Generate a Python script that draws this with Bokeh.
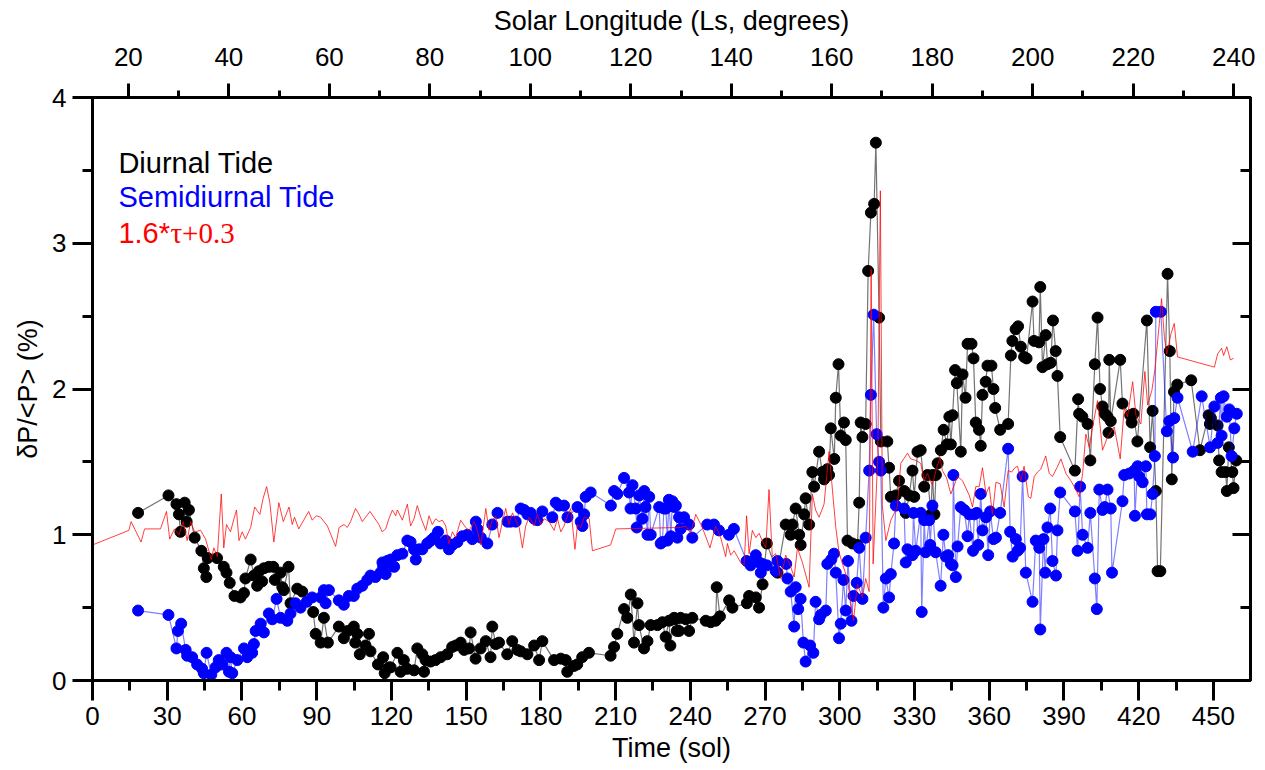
from bokeh.plotting import figure
from bokeh.models import Range1d, LinearAxis, FixedTicker
from bokeh.embed import file_html
from bokeh.resources import INLINE
from bokeh.core.properties import value

FONT = "Liberation Sans"

# ---------------- data ----------------
diurnal_sol = [18.3, 30.5, 33.7, 34.7, 35.3, 37.0, 37.8, 38.7, 41.0, 43.7, 44.7, 45.7, 46.3, 50.0, 52.7, 53.8,
               55.1, 57.0, 59.4, 60.8, 61.4, 63.5, 64.8, 66.1, 66.8, 68.1, 68.8, 70.8, 72.6, 73.2, 75.5, 76.2,
               76.8, 78.7, 79.5, 82.2, 84.2, 88.6, 89.6, 91.6, 92.9, 94.5, 98.9, 100.9, 102.5, 104.9, 105.5,
               106.3, 107.3, 109.6, 111.0, 111.6, 114.6, 116.7, 117.3, 119.0, 119.7, 122.4, 123.7, 125.0,
               126.4, 129.1, 130.4, 132.4, 133.1, 133.7, 135.7, 137.7, 139.8, 142.4, 144.4, 145.8, 147.8,
               149.2, 151.2, 151.8, 153.8, 155.8, 157.9, 159.8, 160.5, 161.9, 163.2, 166.5, 168.5, 170.6,
               171.9, 174.6, 177.3, 179.3, 180.6, 185.3, 188.0, 190.0, 190.6, 193.3, 194.6, 196.6, 199.3,
               208.0, 209.4, 210.7, 213.4, 214.7, 216.1, 217.4, 218.8, 219.4, 221.4, 222.8, 224.1, 226.8,
               228.8, 230.1, 231.5, 232.0, 233.5, 234.1, 234.6, 235.5, 236.1, 238.2, 239.5, 240.8, 246.2,
               248.2, 250.2, 250.6, 251.9, 255.6, 256.9, 262.7, 263.6, 266.3, 267.6, 269.0, 270.7, 275.0,
               278.3, 280.3, 281.0, 282.3, 283.7, 284.3, 285.7, 286.3, 287.7, 289.0, 289.7, 291.7, 293.0,
               293.7, 295.0, 295.7, 296.4, 297.8, 298.4, 299.5, 300.4, 301.7, 302.4, 303.1, 305.1, 307.1,
               307.8, 308.4, 309.1, 310.4, 311.4, 312.5, 313.8, 314.5, 315.8, 316.5, 319.1, 319.8, 320.5,
               322.5, 323.8, 325.9, 326.5, 327.9, 329.2, 329.9, 331.2, 332.5, 333.9, 335.2, 336.6, 337.2,
               338.0, 338.6, 339.3, 340.6, 341.7, 343.0, 344.0, 344.6, 345.3, 346.3, 347.0, 348.6, 349.3,
               350.5, 351.3, 352.9, 353.7, 354.6, 355.9, 356.6, 357.3, 358.6, 359.3, 360.9, 361.7, 362.4,
               364.4, 367.6, 368.7, 369.3, 370.6, 371.6, 372.7, 374.0, 375.0, 377.4, 378.0, 380.0, 380.5,
               381.4, 382.7, 383.4, 384.7, 385.6, 386.7, 387.4, 388.5, 394.4, 395.7, 396.1, 397.4, 399.5,
               400.6, 402.4, 403.5, 404.5, 405.5, 406.4, 407.5, 407.9, 408.2, 408.8, 412.6, 413.5, 416.6,
               417.2, 417.9, 419.5, 423.3, 424.6, 425.6, 426.9, 427.6, 428.7, 431.6, 432.5, 433.3, 434.2,
               435.5, 441.1, 444.6, 448.1, 448.6, 449.0, 451.7, 452.3, 453.3, 454.9, 455.4, 456.2, 457.6,
               458.1, 459.2]
diurnal_val = [1.15, 1.27, 1.21, 1.14, 1.02, 1.22, 1.09, 1.17, 0.98, 0.89, 0.77, 0.71, 0.84, 0.84, 0.78, 0.74,
               0.67, 0.58, 0.57, 0.60, 0.70, 0.83, 0.72, 0.65, 0.75, 0.68, 0.77, 0.78, 0.78, 0.69, 0.74, 0.64,
               0.62, 0.78, 0.53, 0.63, 0.61, 0.47, 0.32, 0.26, 0.43, 0.26, 0.37, 0.29, 0.34, 0.37, 0.26,
               0.32, 0.18, 0.24, 0.32, 0.20, 0.11, 0.16, 0.05, 0.09, 0.09, 0.19, 0.06, 0.14,
               0.08, 0.07, 0.22, 0.18, 0.06, 0.14, 0.13, 0.14, 0.16, 0.18, 0.23, 0.24, 0.26,
               0.21, 0.22, 0.33, 0.15, 0.22, 0.27, 0.16, 0.37, 0.25, 0.26, 0.18, 0.27, 0.21,
               0.20, 0.18, 0.24, 0.14, 0.27, 0.14, 0.15, 0.14, 0.06, 0.10, 0.11, 0.16, 0.19,
               0.17, 0.23, 0.32, 0.49, 0.43, 0.59, 0.26, 0.53, 0.38, 0.22, 0.27, 0.38, 0.38,
               0.40, 0.30, 0.41, 0.24, 0.43, 0.42, 0.34, 0.34, 0.43, 0.42, 0.34, 0.43, 0.41,
               0.40, 0.41, 0.64, 0.44, 0.55, 0.50, 0.53, 0.58, 0.57, 0.50, 0.66, 0.94, 0.74,
               1.07, 1.00, 1.07, 1.18, 1.00, 0.93, 1.14, 1.25, 1.07, 1.43, 1.33, 1.57, 1.43,
               1.38, 1.45, 1.41, 1.73, 1.52, 1.94, 2.17, 1.68, 1.77, 1.65, 0.96, 0.94, 0.93,
               1.22, 1.77, 1.67, 1.76, 2.81, 3.21, 3.27, 3.69, 2.49, 1.64, 1.64, 1.46, 1.26,
               1.27, 1.37, 1.30, 1.15, 1.27, 1.44, 1.26, 1.57, 1.58, 1.33, 1.41, 1.14, 1.41,
               1.14, 1.41, 1.49, 1.58, 1.72, 1.62, 1.81, 1.62, 1.82, 2.13, 2.04, 1.57, 2.10,
               1.94, 2.31, 2.31, 2.21, 1.77, 1.72, 1.61, 1.96, 2.05, 2.16, 2.16, 2.00, 1.87,
               1.72, 1.76, 2.23, 2.33, 2.41, 2.43, 2.29, 2.22, 2.21, 2.60, 2.33, 2.32, 2.70,
               2.15, 2.37, 2.17, 2.18, 2.47, 2.26, 2.09, 1.67, 1.44, 1.93, 1.83, 1.81, 1.76,
               1.51, 2.17, 2.49, 2.00, 1.88, 1.83, 1.81, 1.70, 2.20, 1.78, 2.20, 1.90, 1.82,
               1.77, 1.83, 1.64, 2.47, 1.60, 1.85, 1.30, 0.75, 0.75, 2.79, 2.26, 1.38, 1.98,
               2.03, 2.06, 1.58, 1.82, 1.76, 1.80, 1.75, 1.51, 1.43, 1.43, 1.30, 1.60, 1.43,
               1.32, 1.51]

semi_sol = [18.3, 30.5, 33.7, 34.3, 35.6, 37.4, 38.0, 40.0, 42.0, 44.0, 44.7, 45.8, 47.7, 49.4, 50.7, 52.1,
            53.8, 54.8, 55.4, 56.1, 58.1, 60.8, 62.1, 64.1, 64.8, 65.5, 67.5, 68.8, 70.8, 72.2, 73.9, 75.5,
            78.2, 79.5, 81.5, 83.5, 86.0, 88.2, 91.6, 92.9, 93.6, 94.9, 98.9, 100.9, 102.9, 104.9, 106.3,
            108.3, 110.3, 111.6, 113.6, 115.6, 116.4, 116.7, 117.7, 118.3, 119.7, 121.1, 122.4, 124.4,
            126.4, 127.7, 129.1, 129.8, 131.1, 132.4, 134.4, 135.8, 137.1, 138.7, 139.8, 141.8, 143.1,
            144.5, 146.5, 148.5, 150.5, 152.5, 153.9, 154.5, 155.9, 158.5, 160.5, 162.6, 166.6, 167.9,
            169.9, 171.9, 173.3, 174.6, 175.9, 177.3, 178.6, 180.6, 184.6, 186.0, 187.3, 189.3, 190.7,
            194.7, 196.0, 196.7, 197.4, 198.0, 200.0, 208.1, 209.4, 210.7, 213.4, 215.4, 216.0, 216.8,
            218.1, 218.5, 219.5, 220.8, 221.5, 222.0, 222.8, 223.5, 224.1, 227.5, 228.1, 228.8, 229.4,
            230.2, 230.8, 231.4, 232.2, 232.8, 233.7, 234.2, 234.8, 235.5, 236.1, 237.5, 239.5, 240.8,
            246.8, 249.5, 251.5, 255.5, 257.5, 262.6, 264.2, 266.3, 267.6, 268.3, 268.9, 270.7, 274.3,
            275.0, 278.5, 279.0, 280.3, 281.7, 282.3, 283.3, 284.3, 285.4, 286.3, 288.1, 289.4, 290.3,
            291.7, 292.4, 294.4, 295.0, 296.6, 297.7, 298.4, 299.7, 300.4, 301.5, 302.4, 303.3, 304.7,
            305.5, 306.8, 307.8, 309.1, 310.4, 311.8, 312.5, 313.6, 314.8, 315.8, 316.5, 317.5, 318.5,
            319.8, 320.5, 321.8, 322.5, 325.8, 326.5, 327.2, 329.2, 329.6, 330.5, 332.5, 332.9, 333.9,
            334.5, 335.9, 336.3, 337.2, 338.5, 340.5, 341.6, 342.6, 343.5, 344.6, 345.3, 345.6, 346.6,
            347.3, 348.6, 350.0, 351.3, 352.0, 353.5, 354.0, 355.0, 355.6, 356.6, 357.3, 358.7, 359.6,
            360.4, 361.7, 362.7, 364.4, 367.6, 368.4, 369.4, 370.7, 371.4, 372.4, 373.4, 374.7, 377.4,
            378.7, 380.1, 380.5, 381.8, 382.5, 383.4, 384.5, 385.4, 386.8, 387.4, 388.5, 394.4, 395.5,
            396.5, 397.5, 399.5, 400.6, 402.4, 403.2, 404.2, 405.5, 406.4, 407.5, 408.8, 409.3, 413.5,
            414.2, 416.2, 418.2, 418.5, 419.6, 420.2, 421.6, 422.9, 423.3, 424.7, 425.6, 426.5, 426.9,
            428.9, 431.3, 432.3, 433.8, 434.3, 435.6, 441.7, 445.3, 448.7, 450.4, 451.7, 453.0, 453.3,
            454.1, 455.4, 456.4, 457.3, 458.4, 459.4]
semi_val = [0.48, 0.45, 0.22, 0.34, 0.39, 0.21, 0.17, 0.16, 0.11, 0.08, 0.05, 0.19, 0.04, 0.09, 0.14, 0.11,
            0.19, 0.06, 0.16, 0.05, 0.14, 0.22, 0.16, 0.19, 0.25, 0.34, 0.39, 0.33, 0.46, 0.42, 0.56, 0.43,
            0.41, 0.46, 0.53, 0.50, 0.54, 0.57, 0.57, 0.62, 0.53, 0.62, 0.55, 0.52, 0.58, 0.58, 0.63,
            0.65, 0.69, 0.72, 0.71, 0.74, 0.81, 0.78, 0.73, 0.82, 0.83, 0.78, 0.86, 0.87,
            0.96, 0.95, 0.90, 0.83, 0.90, 0.90, 0.94, 0.96, 0.98, 1.02, 0.94, 0.96, 0.90,
            0.93, 0.95, 0.99, 1.00, 0.97, 1.09, 1.04, 0.98, 0.94, 1.07, 1.15, 1.09, 1.09,
            1.09, 1.18, 1.17, 1.14, 1.15, 1.11, 1.10, 1.16, 1.12, 1.22, 1.20, 1.20, 1.12,
            1.19, 1.09, 1.06, 1.14, 1.26, 1.29, 1.20, 1.30, 1.28, 1.39, 1.29, 1.18, 1.34,
            1.18, 1.05, 1.27, 1.11, 1.30, 1.19, 1.00, 1.26, 1.00, 1.19, 0.94, 0.95, 1.18,
            1.18, 0.96, 1.24, 0.99, 1.23, 1.19, 1.20, 0.98, 1.12, 1.04, 1.12, 1.07, 0.98,
            1.07, 1.07, 1.03, 1.00, 1.04, 0.82, 0.79, 0.86, 0.81, 0.74, 0.80, 0.79, 0.75,
            0.82, 0.80, 0.70, 0.61, 0.37, 0.64, 0.49, 0.56, 0.26, 0.13, 0.24, 0.19, 0.54,
            0.42, 0.45, 0.48, 0.80, 0.83, 0.87, 0.74, 0.29, 0.39, 0.69, 0.48, 0.82, 0.41,
            0.58, 0.67, 0.91, 0.56, 0.98, 1.44, 1.96, 2.51, 1.69, 1.50, 1.44, 0.50, 0.70,
            0.57, 0.73, 0.94, 1.20, 1.18, 0.81, 0.90, 0.86, 1.15, 0.89, 1.15, 0.47, 1.10,
            0.88, 1.10, 0.93, 1.20, 0.88, 0.65, 1.00, 0.85, 0.86, 0.80, 0.79, 1.41, 0.71,
            0.92, 1.19, 1.17, 0.99, 1.14, 0.89, 1.14, 1.15, 0.93, 1.28, 1.03, 1.12, 0.86,
            1.16, 0.97, 0.98, 1.15, 1.59, 1.02, 0.85, 0.97, 0.89, 0.91, 1.40, 0.74, 0.54,
            0.96, 0.91, 0.35, 0.97, 0.74, 1.05, 1.18, 0.82, 0.72, 1.03, 1.29, 1.16, 0.89,
            1.33, 1.00, 0.91, 1.15, 0.70, 0.49, 1.31, 1.17, 1.19, 1.31, 1.18, 0.74, 1.23,
            1.41, 1.42, 1.44, 1.13, 1.47, 1.40, 1.36, 1.47, 1.14, 1.14, 1.28, 1.54, 2.53,
            2.53, 1.71, 1.78, 1.53, 1.80, 1.94, 1.57, 1.95, 1.60, 1.88, 1.63, 1.94, 1.68,
            1.95, 1.81, 1.86, 1.54, 1.73, 1.83]

tau_sol = [0.0, 14.6, 15.5, 19.5, 20.9, 27.3, 29.7, 31.0, 32.9, 34.7, 36.4, 38.0, 39.4, 41.0, 43.4, 45.4,
           47.7, 48.7, 50.1, 51.7, 52.7, 53.8, 55.4, 56.8, 57.8, 58.8, 60.1, 61.4, 63.5, 65.1, 67.2, 68.5,
           69.9, 71.2, 72.8, 74.8, 76.6, 78.9, 80.2, 81.1, 82.8, 84.8, 86.8, 88.2, 89.9, 91.6, 94.3, 97.6,
           99.0, 101.0, 102.3, 103.6, 105.6, 107.0, 108.3, 111.4, 113.0, 115.0, 116.3, 117.7, 119.0,
           120.4, 121.7, 122.4, 124.4, 126.4, 127.7, 129.1, 130.4, 131.8, 133.8, 135.1, 136.4, 137.8,
           139.1, 140.5, 141.8, 143.1, 144.5, 145.8, 147.8, 149.8, 151.2, 153.2, 154.5, 155.9, 157.9,
           159.2, 160.5, 161.9, 163.2, 164.6, 165.9, 167.2, 168.6, 169.9, 171.3, 172.6, 173.9, 175.3,
           177.3, 178.6, 180.0, 181.3, 183.3, 185.3, 186.7, 188.0, 189.3, 190.7, 192.0, 193.7, 194.7,
           196.0, 197.4, 199.4, 200.7, 208.0, 210.1, 236.1, 238.1, 240.1, 242.2, 244.8, 247.9, 250.2,
           252.2, 254.2, 254.9, 256.2, 257.6, 260.2, 261.6, 262.6, 263.6, 264.9, 266.3, 267.6, 268.9,
           270.3, 271.6, 272.9, 274.3, 276.3, 278.3, 280.3, 281.7, 283.0, 285.0, 287.7, 289.0, 290.3,
           291.7, 293.7, 295.7, 297.1, 298.4, 299.7, 303.1, 305.5, 307.1, 309.1, 310.4, 311.8, 312.6,
           313.4, 315.3, 316.3, 317.1, 318.5, 320.5, 323.1, 324.5, 327.2, 328.5, 330.5, 332.5, 333.9,
           335.2, 337.2, 338.9, 340.3, 341.2, 342.9, 344.6, 347.3, 349.3, 352.0, 353.3, 354.6, 356.0,
           357.3, 358.7, 360.0, 361.3, 362.7, 364.4, 366.0, 367.6, 369.0, 370.3, 371.4, 372.7, 374.0,
           375.7, 376.7, 378.1, 379.4, 380.7, 382.7, 384.1, 385.4, 387.2, 388.8, 390.8, 392.8, 394.8,
           396.1, 397.5, 398.8, 400.2, 401.5, 403.5, 405.5, 407.5, 410.2, 412.6, 414.2, 415.5, 417.6,
           418.9, 420.9, 422.5, 423.6, 425.3, 426.5, 428.3, 429.2, 430.3, 431.3, 433.0, 434.3, 435.6,
           450.4, 451.7, 453.3, 454.1, 455.4, 456.8, 458.1]
tau_val = [0.93, 1.03, 1.09, 0.95, 1.04, 1.04, 1.16, 0.97, 1.04, 1.00, 1.09, 0.96, 1.09, 1.02, 1.03, 0.97,
           0.83, 0.91, 0.85, 1.28, 0.91, 1.07, 1.02, 1.11, 1.17, 0.96, 1.02, 0.97, 1.05, 1.19, 1.14, 1.25,
           1.33, 1.22, 0.95, 1.22, 1.09, 1.19, 1.07, 1.12, 1.04, 1.10, 1.16, 1.10, 1.13, 1.12, 1.06, 0.92,
           1.05, 1.07, 1.05, 1.09, 1.18, 1.14, 1.09, 1.16, 1.12, 1.07, 1.02, 1.04, 1.11,
           1.17, 1.13, 1.17, 1.10, 1.21, 1.06, 1.11, 1.20, 1.12, 1.03, 1.13, 1.07, 1.11,
           1.09, 1.10, 1.06, 0.94, 1.02, 0.98, 1.10, 1.05, 1.03, 1.09, 1.03, 0.93, 1.18,
           1.03, 1.10, 1.13, 0.98, 1.09, 1.18, 1.07, 1.15, 1.10, 1.05, 0.91, 1.06, 1.12,
           1.06, 1.14, 1.07, 1.11, 1.09, 1.03, 1.11, 1.02, 1.06, 1.13, 1.18, 0.90, 1.07,
           1.05, 1.12, 1.11, 0.89, 0.93, 1.04, 1.05, 1.06, 1.01, 1.14, 1.05, 0.91, 1.06,
           0.98, 0.85, 0.94, 0.86, 0.89, 0.81, 0.79, 1.13, 0.87, 1.03, 0.98, 1.01, 0.96,
           0.91, 1.31, 0.85, 0.87, 0.70, 0.86, 0.78, 0.71, 0.91, 0.81, 0.64, 1.28, 1.17,
           1.12, 1.21, 1.57, 1.30, 1.05, 0.88, 0.69, 0.41, 0.66, 0.57, 0.70, 0.61, 2.82,
           0.80, 1.55, 3.36, 1.20, 0.96, 1.10, 1.19, 1.49, 1.56, 1.52, 1.51, 1.49, 1.37,
           1.42, 1.34, 1.46, 1.53, 1.44, 1.39, 1.28, 1.40, 1.37, 1.27, 1.19, 1.33, 1.33,
           1.46, 1.28, 1.33, 1.14, 1.36, 1.35, 1.19, 1.44, 1.43, 1.46, 1.47, 1.37, 1.47,
           1.26, 1.25, 1.40, 1.43, 1.45, 1.54, 1.42, 1.40, 1.46, 1.52, 1.42, 1.37, 1.31,
           1.26, 1.42, 1.69, 1.60, 1.74, 1.92, 1.58, 1.67, 1.74, 1.52, 1.87, 1.81, 2.05,
           1.82, 1.76, 2.12, 1.89, 1.99, 2.13, 2.45, 2.62, 2.36, 2.24, 2.38, 2.45, 2.22,
           2.15, 2.24, 2.28, 2.23, 2.29, 2.20, 2.21]

time_ticks = [0, 30, 60, 90, 120, 150, 180, 210, 240, 270, 300, 330, 360, 390, 420, 450]
time_minor = [15, 45, 75, 105, 135, 165, 195, 225, 255, 285, 315, 345, 375, 405, 435]
ls_ticks = [20, 40, 60, 80, 100, 120, 140, 160, 180, 200, 220, 240]
ls_minor = [30, 50, 70, 90, 110, 130, 150, 170, 190, 210, 230]
y_ticks = [0, 1, 2, 3, 4]
y_minor = [0.5, 1.5, 2.5, 3.5]

legend_labels = ["Diurnal Tide", "Semidiurnal Tide", "1.6*", "\u03c4+0.3"]

# ---------------- figure ----------------
p = figure(width=1265, height=770, output_backend="svg", toolbar_location=None,
           x_range=Range1d(0, 464.9), y_range=Range1d(0, 4),
           x_axis_location=None, y_axis_location=None,
           min_border_left=92, min_border_right=15, min_border_top=97, min_border_bottom=90)
p.grid.visible = False
p.outline_line_color = "black"
p.outline_line_width = 3
p.extra_x_ranges = {"ls": Range1d(12.86, 243.35)}


def style(ax, mj_in, mj_out, mn_in, mn_out, labels=True, lab_off=5, title_off=4):
    ax.axis_line_width = 3
    ax.axis_line_color = "black"
    ax.major_tick_line_width = 3
    ax.minor_tick_line_width = 3
    ax.major_tick_in = mj_in
    ax.major_tick_out = mj_out
    ax.minor_tick_in = mn_in
    ax.minor_tick_out = mn_out
    ax.major_label_text_font = FONT
    ax.major_label_text_font_size = "26px" if labels else "1px"
    ax.major_label_text_color = "black" if labels else None
    ax.major_label_standoff = lab_off
    ax.axis_label_text_font = FONT
    ax.axis_label_text_font_size = "27px"
    ax.axis_label_text_font_style = "normal"
    ax.axis_label_text_color = "black"
    ax.axis_label_standoff = title_off


bottom = LinearAxis(ticker=FixedTicker(ticks=time_ticks, minor_ticks=time_minor), axis_label="Time (sol)")
style(bottom, 0, 20, 0, 10, lab_off=6, title_off=5)
p.add_layout(bottom, "below")

top = LinearAxis(x_range_name="ls", ticker=FixedTicker(ticks=ls_ticks, minor_ticks=ls_minor),
                 axis_label="Solar Longitude (Ls, degrees)")
style(top, 0, 14, 0, 7, lab_off=18, title_off=9)
p.add_layout(top, "above")

left = LinearAxis(ticker=FixedTicker(ticks=y_ticks, minor_ticks=y_minor), axis_label="\u03b4P/<P> (%)")
style(left, 0, 20, 0, 10, lab_off=6, title_off=6)
p.add_layout(left, "left")

right = LinearAxis(ticker=FixedTicker(ticks=y_ticks, minor_ticks=y_minor))
style(right, 18, 0, 10, 0, labels=False)
p.add_layout(right, "right")

# ---------------- series ----------------
p.line(diurnal_sol, diurnal_val, line_color="black", line_alpha=0.55, line_width=1.2)
p.scatter(diurnal_sol, diurnal_val, size=11, fill_color="black", line_color="black")
p.line(semi_sol, semi_val, line_color="blue", line_alpha=0.5, line_width=1.2)
p.scatter(semi_sol, semi_val, size=11, fill_color="blue", line_color="blue")
p.line(tau_sol, tau_val, line_color="red", line_alpha=0.75, line_width=1.0)

# ---------------- legend texts ----------------
p.text(x=[10.4], y=[3.554], text=[legend_labels[0]], text_color="black", text_font=value(FONT),
       text_font_size="29px", text_baseline="middle")
p.text(x=[10.4], y=[3.314], text=[legend_labels[1]], text_color="blue", text_font=value(FONT),
       text_font_size="29px", text_baseline="middle")
p.text(x=[10.4], y=[3.067], text=[legend_labels[2]], text_color="red", text_font=value(FONT),
       text_font_size="29px", text_baseline="middle")
p.text(x=[10.4], y=[3.067], x_offset=52, text=[legend_labels[3]], text_color="red",
       text_font=value("Liberation Serif"), text_font_size="29px", text_baseline="middle")

open("out.html", "w").write(file_html(p, INLINE))
